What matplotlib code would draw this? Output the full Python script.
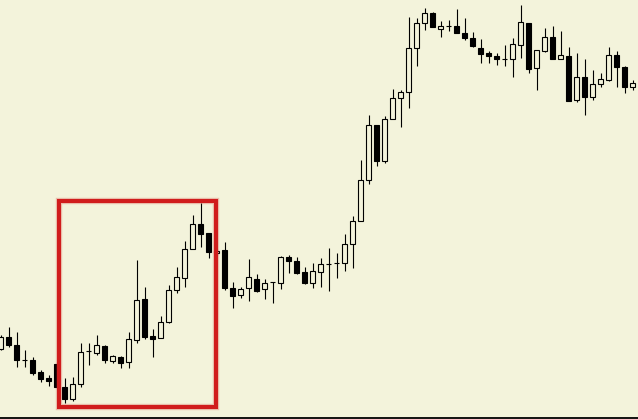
import matplotlib
matplotlib.use("Agg")
import matplotlib.pyplot as plt
from matplotlib.patches import Rectangle

# OHLC (arbitrary price units, 1 unit = 1 px)
opens = [70, 82, 74, 59, 59, 47, 41, 55, 32, 20,
         35, 68, 66, 73, 58, 62, 57, 79, 120, 83,
         81, 97, 129, 141, 170, 195, 186, 166, 169, 131,
         124, 131, 140, 130, 137, 136, 162, 158, 147, 136,
         147, 155, 156, 156, 175, 198, 239, 294, 258, 300,
         321, 327, 371, 396, 406, 390, 393, 393, 386, 381,
         371, 366, 363, 360, 360, 374, 396, 351, 368, 382,
         360, 363, 319, 342, 322, 335, 339, 364, 352, 332]
highs = [84, 92, 87, 69, 62, 49, 44, 57, 41, 42,
         76, 76, 84, 74, 64, 63, 87, 159, 132, 90,
         103, 134, 152, 178, 204, 216, 186, 170, 177, 137,
         132, 160, 145, 140, 137, 163, 164, 162, 152, 156,
         161, 171, 166, 185, 203, 259, 304, 294, 303, 330,
         329, 402, 401, 411, 407, 398, 399, 410, 401, 387,
         380, 368, 366, 374, 381, 414, 396, 369, 391, 393,
         388, 372, 366, 360, 349, 346, 372, 368, 353, 339]
lows = [69, 72, 52, 52, 44, 37, 33, 31, 16, 18,
        32, 54, 64, 56, 56, 51, 51, 76, 80, 62,
        81, 96, 126, 132, 170, 172, 161, 164, 129, 111,
        121, 118, 127, 120, 116, 130, 146, 145, 135, 131,
        132, 128, 141, 148, 151, 198, 235, 253, 256, 300,
        292, 311, 353, 389, 392, 382, 388, 386, 379, 372,
        356, 356, 354, 353, 342, 361, 346, 329, 367, 360,
        360, 318, 317, 304, 319, 332, 338, 332, 326, 329]
closes = [82, 74, 59, 59, 46, 40, 38, 32, 20, 35,
          67, 68, 74, 59, 63, 56, 80, 119, 82, 80,
          97, 129, 142, 170, 195, 185, 167, 168, 131, 123,
          130, 142, 128, 136, 137, 162, 158, 146, 136, 148,
          155, 155, 156, 175, 198, 239, 294, 258, 300, 321,
          327, 371, 396, 406, 392, 393, 393, 386, 381, 373,
          365, 363, 360, 360, 375, 397, 350, 369, 382, 360,
          364, 318, 342, 322, 335, 340, 364, 352, 332, 336]

bg = "#f3f3db"
fig = plt.figure(figsize=(6.38, 4.19), dpi=100, facecolor=bg)
ax = fig.add_axes([0, 0, 1, 1])
ax.set_facecolor(bg)

idx = list(range(len(opens)))
ax.vlines(idx, lows, highs, color="black", linewidth=0.8, zorder=1)

bottoms = [min(o, c) for o, c in zip(opens, closes)]
heights = [abs(c - o) for o, c in zip(opens, closes)]
faces = ["black" if c < o else bg for o, c in zip(opens, closes)]
ax.bar(idx, heights, bottom=bottoms, width=0.58, color=faces,
       edgecolor="black", linewidth=0.8, zorder=2)

# highlighted zone
box = dict(xy=(7.25, 12.5), width=19.69, height=205.5, fill=False)
ax.add_patch(Rectangle(**box, edgecolor="#d02020", alpha=0.25, linewidth=4.6, zorder=4))
ax.add_patch(Rectangle(**box, edgecolor="#d01c1c", linewidth=2.9, zorder=5))

ax.axhline(1, color="black", linewidth=1.3, zorder=6)

ax.set_xlim(-0.1, 79.65)
ax.set_ylim(0, 419)
ax.axis("off")

plt.savefig("out.png", dpi=100, facecolor=bg)
